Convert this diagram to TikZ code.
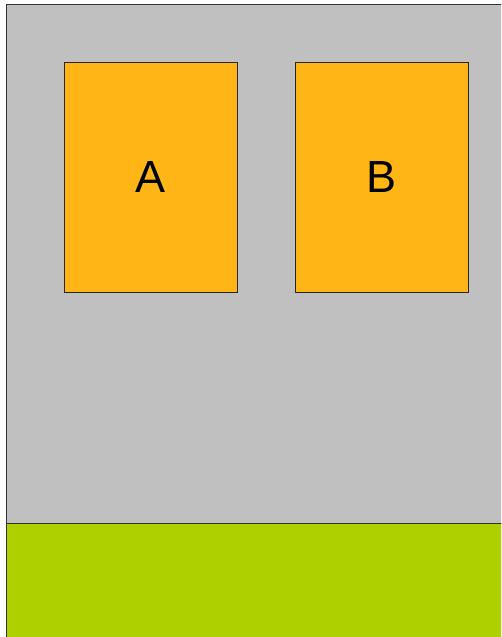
\documentclass[tikz,border=0pt]{standalone}
\usepackage{fontspec}
\setmainfont{Liberation Sans}
\definecolor{bggray}{HTML}{C0C0C0}
\definecolor{boxorange}{HTML}{FFB515}
\definecolor{basegreen}{HTML}{AFD000}
\begin{document}
\begin{tikzpicture}[x=1pt,y=-1pt,
  panel/.style={draw=black!80,line width=1pt},
  card/.style={draw=black!85,line width=0.9pt,fill=boxorange,minimum width=173pt,minimum height=230pt,inner sep=0pt,font=\fontsize{45}{54}\selectfont}]
\useasboundingbox (0,0) rectangle (501,637);
\clip (0,0) rectangle (501,637);
\fill[white] (0,0) rectangle (501,637);
\filldraw[panel,fill=bggray] (6.5,4.5) rectangle (520,523);
\filldraw[panel,fill=basegreen] (6.5,523) rectangle (520,660);
\node[card] (A) at (150.5,177) {A};
\node[card] (B) at (381.5,177) {B};
\end{tikzpicture}
\end{document}
